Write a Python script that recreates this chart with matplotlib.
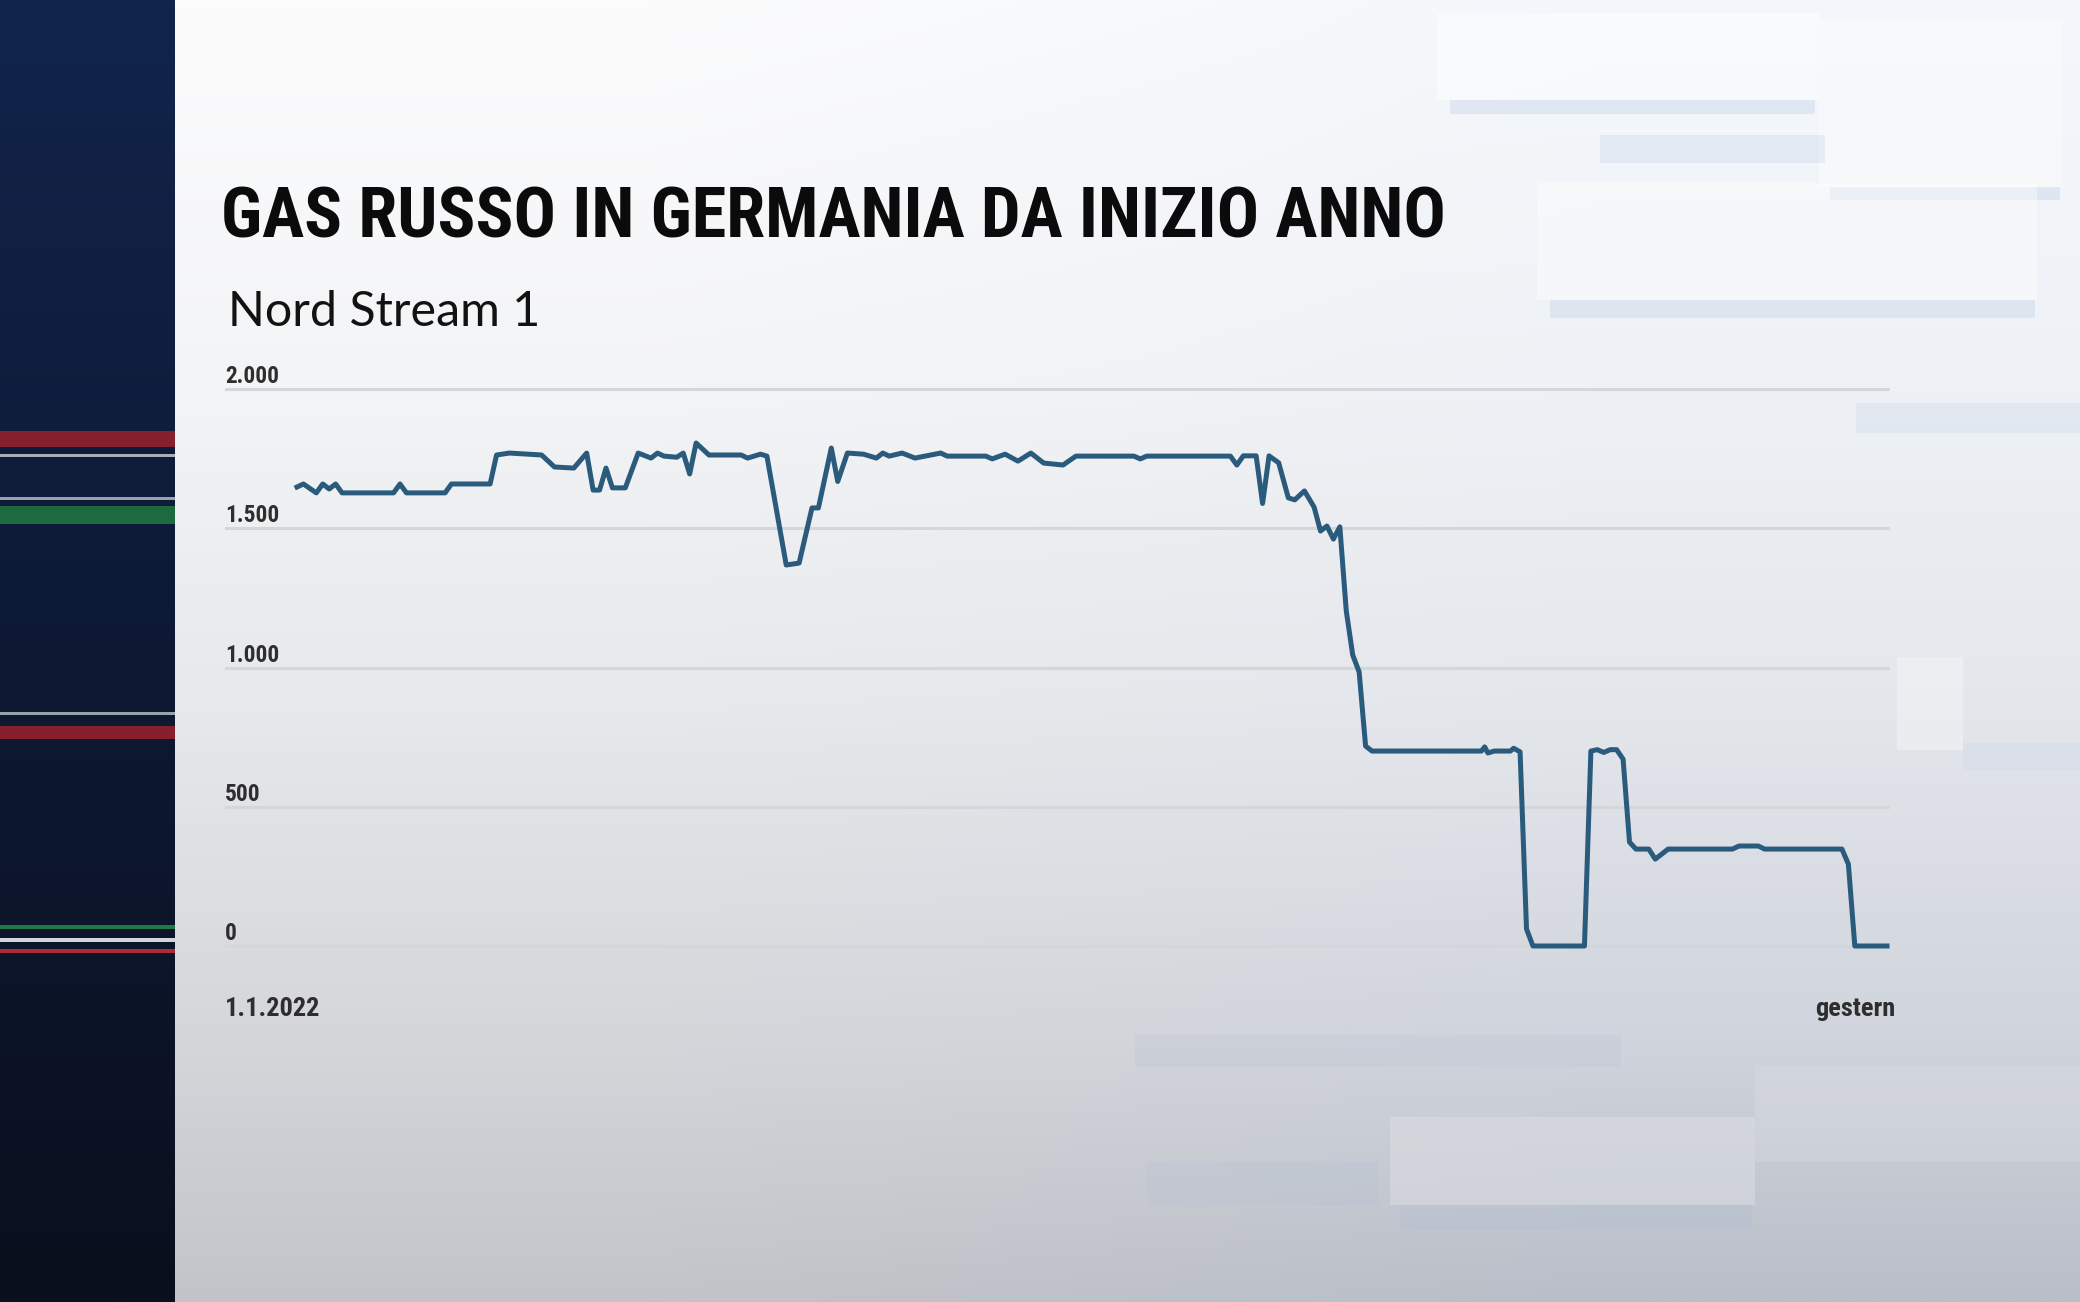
import numpy as np
import matplotlib
matplotlib.use("Agg")
import matplotlib.pyplot as plt
from matplotlib import font_manager as fm
from matplotlib.patches import Rectangle
from matplotlib.colors import to_rgb

# Nord Stream 1 flow, x = days since 1.1.2022
days = [0, 1, 3, 4, 5, 6, 7, 15, 16, 17, 23, 24, 30, 31, 33, 38, 40, 43, 45, 46,
        47, 48, 49, 51, 53, 55, 56, 57, 59, 60, 61, 62, 64, 69, 70, 72, 73, 76, 78, 80,
        81, 83, 84, 85.5, 88, 89, 90, 91, 92, 94, 96, 100, 101, 107, 108, 110, 112, 114, 116, 119,
        121, 130, 131, 132, 145, 146, 147, 149, 150, 151, 152.5, 154, 155, 156.5, 158, 159, 160, 161, 162, 163,
        164, 165, 166, 167, 184, 184.5, 185, 186, 188.5, 189, 190, 191, 192, 200, 201, 202, 203, 204, 205, 206,
        207, 208, 210, 211, 213, 223, 224, 227, 228, 240, 241, 242, 247]
flow = [1648, 1659, 1627, 1659, 1641, 1659, 1627, 1627, 1659, 1627, 1627, 1659, 1659, 1763, 1770, 1763, 1720, 1716, 1770, 1637,
        1637, 1716, 1645, 1645, 1770, 1752, 1770, 1759, 1755, 1770, 1695, 1806, 1763, 1763, 1752, 1766, 1759, 1368, 1375, 1573,
        1573, 1788, 1668, 1770, 1766, 1759, 1752, 1770, 1759, 1770, 1752, 1770, 1759, 1759, 1749, 1766, 1741, 1770, 1734, 1727,
        1759, 1759, 1749, 1759, 1759, 1727, 1760, 1760, 1589, 1760, 1735, 1609, 1602, 1634, 1576, 1490, 1508, 1461, 1505, 1203,
        1045, 984, 718, 700, 700, 715, 693, 700, 700, 710, 697, 61, 0, 0, 700, 705, 695, 705, 705, 671,
        373, 348, 348, 312, 348, 348, 359, 359, 348, 348, 294, 0, 0]

y_ticks = [0, 500, 1000, 1500, 2000]
y_tick_labels = ["0", "500", "1.000", "1.500", "2.000"]
x_start_label = "1.1.2022"
x_end_label = "gestern"
title = "GAS RUSSO IN GERMANIA DA INIZIO ANNO"
subtitle = "Nord Stream 1"

W, H = 2080, 1302


def pick(*names):
    for n in names:
        try:
            fm.findfont(fm.FontProperties(family=n), fallback_to_default=False)
            return n
        except ValueError:
            pass
    return "DejaVu Sans"


narrow = pick("Liberation Sans Narrow", "DejaVu Sans Condensed", "Roboto Condensed", "Liberation Sans")
light = pick("Lato", "Open Sans", "Noto Sans")

fig = plt.figure(figsize=(W / 100, H / 100), dpi=100)
renderer = fig.canvas.get_renderer()


def fit_width(txt, target_px):
    w = txt.get_window_extent(renderer).width
    txt.set_fontsize(txt.get_fontsize() * target_px / w)


# background
bg = fig.add_axes([0, 0, 1, 1])
bg.set_xlim(0, W)
bg.set_ylim(H, 0)
bg.axis("off")

stops_y = [0.0, 0.3, 0.55, 0.8, 1.0]
left_cols = ["#fcfcfd", "#f3f4f6", "#e7e8eb", "#d5d6da", "#c3c4c9"]
right_cols = ["#f4f7fb", "#eef1f5", "#e3e6eb", "#d0d4dc", "#b9bec8"]
yy = np.linspace(0, 1, 300)
img = np.zeros((300, 2, 3))
for k, cols in enumerate([left_cols, right_cols]):
    rgb = np.array([to_rgb(c) for c in cols])
    for ch in range(3):
        img[:, k, ch] = np.interp(yy, stops_y, rgb[:, ch])
bg.imshow(img, extent=[175, W, H, 0], aspect="auto", interpolation="bilinear", zorder=0)

# soft panels on the right
shadow = "#c9d6ea"
for x0, y0, x1, y1, col, a in [
    (1437, 13, 1819, 100, "white", 0.45), (1450, 100, 1815, 114, shadow, 0.45),
    (1819, 20, 2062, 187, "white", 0.4), (1830, 187, 2060, 200, shadow, 0.45),
    (1600, 135, 1825, 163, shadow, 0.35),
    (1537, 183, 2037, 300, "white", 0.4), (1550, 300, 2035, 318, shadow, 0.45),
    (1856, 403, 2080, 433, shadow, 0.3),
    (1897, 657, 1963, 750, "white", 0.3), (1963, 743, 2080, 770, shadow, 0.25),
    (1135, 1035, 1621, 1067, "#bcc6d5", 0.25),
    (1147, 1162, 1378, 1205, "#b8c3d4", 0.3),
    (1390, 1117, 1755, 1205, "#e8e9ec", 0.35), (1400, 1205, 1752, 1230, "#b4c1d3", 0.35),
    (1755, 1065, 2080, 1162, "#dfe1e5", 0.3),
]:
    bg.add_patch(Rectangle((x0, y0), x1 - x0, y1 - y0, color=col, alpha=a, lw=0, zorder=1))

# dark left panel with stripes
panel = np.zeros((300, 1, 3))
top, bot = np.array(to_rgb("#11244b")), np.array(to_rgb("#0a0f1d"))
for ch in range(3):
    panel[:, 0, ch] = np.interp(yy, [0, 1], [top[ch], bot[ch]])
bg.imshow(panel, extent=[0, 175, H, 0], aspect="auto", interpolation="bilinear", zorder=2)
for y0, y1, col in [
    (431, 447, "#86202f"), (454, 457, "#a9aeb8"), (497, 500, "#9aa1ac"),
    (506, 524, "#1d6a40"), (712, 715, "#9aa1ac"), (726, 739, "#86202f"),
    (925, 929, "#1d7a45"), (938, 942, "#d0d3d8"), (949, 953, "#b02a36"),
]:
    bg.add_patch(Rectangle((0, y0), 175, y1 - y0, color=col, lw=0, zorder=3))
bg.set_xlim(0, W)
bg.set_ylim(H, 0)

# chart area
x0_px, x1_px = 225, 1890
day0_px, dayN_px = 297, 1887
zero_px, top_px = 946, 389
ppd = (dayN_px - day0_px) / days[-1]
ppu = (zero_px - top_px) / y_ticks[-1]
margin = 15
b_px = zero_px + margin * ppu
t_px = top_px - margin * ppu
ax = fig.add_axes([x0_px / W, 1 - b_px / H, (x1_px - x0_px) / W, (b_px - t_px) / H])
ax.set_facecolor("none")
ax.set_xlim(-(day0_px - x0_px) / ppd, days[-1] + (x1_px - dayN_px) / ppd)
ax.set_ylim(-margin, y_ticks[-1] + margin)
for s in ax.spines.values():
    s.set_visible(False)
ax.set_xticks([])
ax.set_yticks(y_ticks)
ax.set_yticklabels([])
ax.tick_params(axis="y", length=0)
ax.grid(axis="y", color="#d4d6da", lw=2.2)
ax.set_axisbelow(True)

ax.plot(days, flow, color="#2a5a7c", lw=3.6, solid_joinstyle="round", zorder=3)

ylab = []
for v, lab in zip(y_ticks, y_tick_labels):
    t = ax.annotate(lab, xy=(0, v), xycoords=ax.get_yaxis_transform(), xytext=(0, 6),
                    textcoords="offset pixels", ha="left", va="baseline",
                    fontsize=18, fontweight="bold", color="#2e2e2e", family=narrow)
    ylab.append(t)
fit_width(ylab[-1], 54)
for t in ylab:
    t.set_fontsize(ylab[-1].get_fontsize())

xs = ax.annotate(x_start_label, xy=(0, 0), xycoords=ax.get_yaxis_transform(), xytext=(0, -70),
                 textcoords="offset pixels", ha="left", va="baseline",
                 fontsize=21, fontweight="bold", color="#2e2e2e", family=narrow)
fit_width(xs, 95)
xe = ax.annotate(x_end_label, xy=(1, 0), xycoords=ax.get_yaxis_transform(), xytext=(5, -70),
                 textcoords="offset pixels", ha="right", va="baseline",
                 fontsize=xs.get_fontsize(), fontweight="bold", color="#2e2e2e", family=narrow)

# titles
tt = fig.text(221 / W, 1 - 238 / H, title, ha="left", va="baseline", fontsize=60,
              fontweight="bold", color="#0b0b0b", family=narrow)
fit_width(tt, 1225)
st = fig.text(228 / W, 1 - 326 / H, subtitle, ha="left", va="baseline", fontsize=34,
              fontweight="normal", color="#121212", family=light)
fit_width(st, 313)

fig.savefig("out.png", dpi=100)
